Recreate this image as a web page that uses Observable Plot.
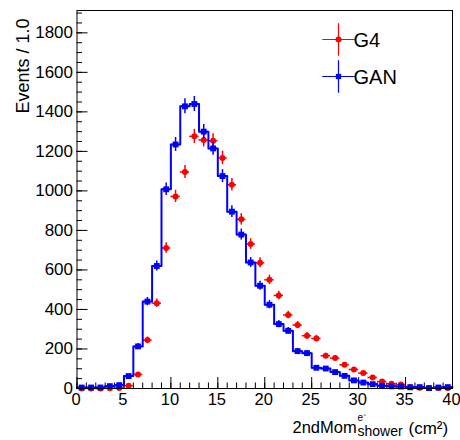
<!DOCTYPE html>
<html><head><meta charset="utf-8">
<script src="https://cdn.jsdelivr.net/npm/d3@7"></script>
<script src="https://cdn.jsdelivr.net/npm/@observablehq/plot@0.6"></script>
<style>html,body{margin:0;padding:0;background:#fff}</style>
</head><body><div id="chart"></div>
<script>
// Bin lower edges (bin width 1.0)
const binLow = [0,1,2,3,4,5,6,7,8,9,10,11,12,13,14,15,16,17,18,19,20,21,22,23,24,25,26,27,28,29,30,31,32,33,34,35,36,37,38,39];
// G4 (red) contents
const g4 = [0,0,0,1,3,14,71,245,432,711,972,1096,1276,1258,1254,1167,1031,856,731,636,550,471,372,321,267,253,166,154,120,96,78,56,35,24,20,7,4,2,2,3];
// GAN (blue) contents
const gan = [5,5,5,12,17,63,213,440,620,1008,1235,1428,1440,1300,1215,1075,895,779,638,520,424,326,292,189,179,105,101,83,64,41,30,22,14,11,10,6,7,2,5,7];

const xMajor = [0,5,10,15,20,25,30,35,40];
const xMinor = [0,1,2,3,4,5,6,7,8,9,10,11,12,13,14,15,16,17,18,19,20,21,22,23,24,25,26,27,28,29,30,31,32,33,34,35,36,37,38,39,40];
const yMajor = [0,200,400,600,800,1000,1200,1400,1600,1800];
const yMinor = [0,50,100,150,200,250,300,350,400,450,500,550,600,650,700,750,800,850,900,950,1000,1050,1100,1150,1200,1250,1300,1350,1400,1450,1500,1550,1600,1650,1700,1750,1800,1850,1900];
const yTitle = "Events / 1.0";
const legendNames = ["G4", "GAN"];
const legendColors = ["#ff0000", "#0000ff"];
const legendSymbols = ["circle", "square"];

const RED = "#ff0000", BLUE = "#0000ff";
const rows = binLow.map((b, i) => ({lo: b, hi: b + 1, x: b + 0.5, g4: g4[i], gan: gan[i]}));
const step = binLow.map((b, i) => ({x: b, y: gan[i]})).concat([{x: binLow[binLow.length - 1] + 1, y: gan[gan.length - 1]}]);

function series(key, color, symbol, r) {
  return [
    Plot.ruleX(rows, {x: "x", y1: d => d[key] - Math.sqrt(d[key]), y2: d => d[key] + Math.sqrt(d[key]), stroke: color, strokeWidth: 1.5}),
    Plot.ruleY(rows, {y: key, x1: "lo", x2: "hi", stroke: color, strokeWidth: 1.5}),
    Plot.dot(rows, {x: "x", y: key, r, symbol, fill: color, stroke: null})
  ];
}

const legendMarks = [];
legendNames.forEach((name, i) => {
  const dy = 29 + i * 37;
  legendMarks.push(
    Plot.dot([name], {frameAnchor: "top-right", dx: -114, dy, symbol: "plus", r: 10.5, stroke: legendColors[i], strokeWidth: 1.2, fill: "none"}),
    Plot.dot([name], {frameAnchor: "top-right", dx: -114, dy, symbol: legendSymbols[i], r: 3, fill: legendColors[i], stroke: null}),
    Plot.text([name], {frameAnchor: "top-right", dx: -99, dy: dy + 1, text: d => d, textAnchor: "start", lineAnchor: "middle", fontSize: 20, fill: "black"})
  );
});

// x-axis title parts (with super/subscripts)
const xTitleParts = [
  {t: "2ndMom", dx: -160, dy: 44, fs: 16.5},
  {t: "e\u207B", dx: -95, dy: 32, fs: 10},
  {t: "shower", dx: -95, dy: 47, fs: 14},
  {t: "(cm\u00B2)", dx: -44, dy: 45, fs: 17}
];
const xTitleMarks = xTitleParts.map(p =>
  Plot.text([p.t], {frameAnchor: "bottom-right", dx: p.dx, dy: p.dy, text: d => d, textAnchor: "start", lineAnchor: "bottom", fontSize: p.fs, fill: "black"})
);

const chart = Plot.plot({
  width: 460, height: 440,
  marginLeft: 76.5, marginRight: 8, marginTop: 10, marginBottom: 52,
  x: {domain: [0, 40]},
  y: {domain: [0, 1913]},
  style: {fontFamily: "'Liberation Sans', Arial, Helvetica, sans-serif", fontSize: "17px", color: "black", background: "white"},
  marks: [
    Plot.axisX({ticks: xMinor, tickSize: 5.5, dy: -5.5, tickFormat: () => "", strokeWidth: 1}),
    Plot.axisX({ticks: xMajor, tickSize: 11, dy: -11, tickFormat: () => "", strokeWidth: 1}),
    Plot.axisX({ticks: xMajor, tickSize: 0, tickPadding: 5, dx: -1, tickFormat: d => String(d), fontSize: 16.5, label: null}),
    Plot.axisY({ticks: yMinor, tickSize: 5.5, dx: 5.5, tickFormat: () => "", strokeWidth: 1}),
    Plot.axisY({ticks: yMajor, tickSize: 11, dx: 11, tickFormat: () => "", strokeWidth: 1}),
    Plot.axisY({ticks: yMajor, tickSize: 0, tickPadding: 4, tickFormat: d => String(d), fontSize: 17, label: null}),
    ...series("g4", RED, "circle", 3),
    Plot.line(step, {x: "x", y: "y", curve: "step-after", stroke: BLUE, strokeWidth: 2}),
    ...series("gan", BLUE, "square", 3.3),
    Plot.frame({stroke: "black", strokeWidth: 1}),
    Plot.text([yTitle], {frameAnchor: "top-left", dx: -54, dy: 8, text: d => d, rotate: -90, textAnchor: "end", lineAnchor: "middle", fontSize: 18, fill: "black"}),
    ...xTitleMarks,
    ...legendMarks
  ]
});
document.getElementById("chart").appendChild(chart);
</script>
</body></html>
